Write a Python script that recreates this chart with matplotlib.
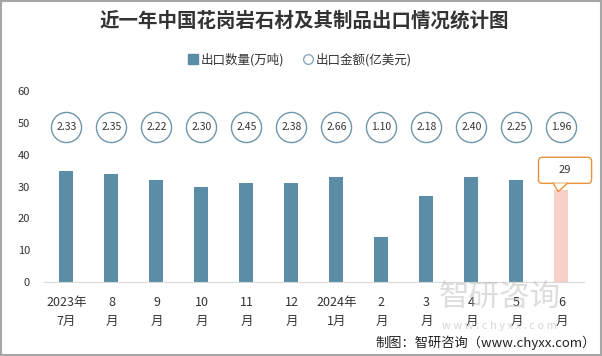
import matplotlib
matplotlib.use('Agg')
import matplotlib.pyplot as plt
from matplotlib.patches import Rectangle, FancyBboxPatch, Polygon
from matplotlib.lines import Line2D

plt.rcParams['font.family'] = ['Noto Sans CJK SC', 'DejaVu Sans']

# data
months = ['2023年\n7月', '8\n月', '9\n月', '10\n月', '11\n月', '12\n月',
          '2024年\n1月', '2\n月', '3\n月', '4\n月', '5\n月', '6\n月']
volume = [35, 34, 32, 30, 31, 31, 33, 14, 27, 33, 32, 29]      # 万吨
amount = [2.33, 2.35, 2.22, 2.30, 2.45, 2.38, 2.66, 1.10, 2.18, 2.40, 2.25, 1.96]  # 亿美元

bar_color = '#5b8ea6'
last_color = '#f8d0c8'
orange = '#e8913a'

fig = plt.figure(figsize=(6.02, 3.56), dpi=100)
ax = fig.add_axes([0.073, 0.208, 0.897, 0.536])

x = list(range(len(months)))
colors = [bar_color] * (len(volume) - 1) + [last_color]
ax.bar(x, volume, width=0.31, color=colors, zorder=2)

# amount shown as circles in a row near the top
circ_y = [48.8] * len(amount)
ax.scatter(x, circ_y, s=470, facecolor='white', edgecolor='#6e95aa', linewidth=1, zorder=3)
for xi, yi, v in zip(x, circ_y, amount):
    ax.text(xi, yi, f'{v:.2f}', ha='center', va='center', fontsize=7.5, color='#333333', zorder=4)

# callout box for the last bar
lx, ly = x[-1], volume[-1]
box = FancyBboxPatch((lx - 0.51, ly + 2.0), 1.18, 8.2,
                     boxstyle='round,pad=0,rounding_size=0.09', mutation_aspect=14,
                     fc='white', ec=orange, lw=1, zorder=5, clip_on=False)
ax.add_patch(box)
tip = [(lx - 0.18, ly + 2.0), (lx - 0.07, ly - 0.6), (lx + 0.13, ly + 2.0)]
ax.add_patch(Polygon(tip, closed=True, fc='white', ec='none', zorder=6, clip_on=False))
ax.plot([tip[0][0], tip[1][0], tip[2][0]], [tip[0][1], tip[1][1], tip[2][1]],
        color=orange, lw=1, zorder=7, solid_joinstyle='miter', clip_on=False)
ax.text(lx + 0.08, ly + 6.1, str(ly), ha='center', va='center', fontsize=8,
        color='#333333', zorder=8)

ax.set_xlim(-0.5, 11.5)
ax.set_ylim(0, 60)
ax.set_yticks(range(0, 61, 10))
ax.set_xticks(x)
ax.set_xticklabels(months, fontsize=9, color='#333333', linespacing=1.65)
ax.tick_params(axis='y', length=0, pad=10, labelsize=8, labelcolor='#333333')
ax.tick_params(axis='x', length=0, pad=10)
for s in ['top', 'right', 'left']:
    ax.spines[s].set_visible(False)
ax.spines['bottom'].set_color('#d9d9d9')

fig.text(0.505, 0.943, '近一年中国花岗岩石材及其制品出口情况统计图', ha='center', va='center',
         fontsize=14, fontweight='bold', color='#333333')

handles = [Line2D([], [], marker='s', linestyle='', color=bar_color, markersize=7),
           Line2D([], [], marker='o', linestyle='', markerfacecolor='white',
                  markeredgecolor='#8aa9bb', markersize=7)]
fig.legend(handles, ['出口数量(万吨)', '出口金额(亿美元)'], loc='center', bbox_to_anchor=(0.497, 0.833),
           ncol=2, frameon=False, fontsize=9, handletextpad=0.1, columnspacing=1.4, handlelength=1.0,
           labelcolor='#333333')

# watermark and source
fig.text(0.83, 0.165, '智研咨询', ha='center', va='center', fontsize=22, color='#b5b5b5', alpha=0.45)
fig.text(0.83, 0.085, 'w w w . c h y x x . c o m', ha='center', va='center', fontsize=8,
         color='#b5b5b5', alpha=0.55)
fig.text(0.99, 0.037, '制图：智研咨询（www.chyxx.com）', ha='right', va='center', fontsize=9.5,
         color='#222222')

fig.patches.append(Rectangle((0.001, 0.002), 0.998, 0.996, transform=fig.transFigure,
                             fill=False, ec='#a6a6a6', lw=1.5))

fig.savefig('out.png', dpi=100)
